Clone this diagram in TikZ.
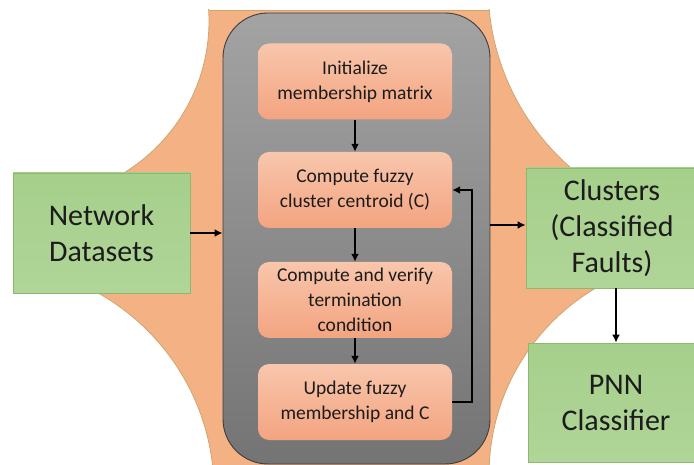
\documentclass[tikz,border=0pt]{standalone}
\usepackage{fontspec}
\setmainfont{Carlito}
\usetikzlibrary{arrows.meta}
\definecolor{bgorange}{RGB}{244,177,131}
\definecolor{bgline}{RGB}{205,165,110}
\definecolor{graytop}{RGB}{163,163,163}
\definecolor{graybot}{RGB}{116,116,116}
\definecolor{grayline}{RGB}{60,60,60}
\definecolor{saltop}{RGB}{248,198,172}
\definecolor{salbot}{RGB}{243,164,128}
\definecolor{greentop}{RGB}{166,207,139}
\definecolor{greenbot}{RGB}{176,213,152}
\definecolor{greenline}{RGB}{140,185,110}
\definecolor{txt}{RGB}{28,28,28}
\begin{document}
\begin{tikzpicture}[x=1pt,y=-1pt,
  stepbox/.style={rectangle, rounded corners=11pt, top color=saltop, bottom color=salbot,
    minimum width=194pt, minimum height=76pt, align=center, text=txt,
    font=\fontsize{19.5}{25}\selectfont, inner sep=0pt},
  greenbox/.style={rectangle, top color=greentop, bottom color=greenbot, draw=greenline,
    line width=0.8pt, minimum height=120pt, align=center, text=txt,
    font=\fontsize{30}{36}\selectfont, inner sep=0pt},
  panel/.style={rectangle, rounded corners=45pt, top color=graytop, bottom color=graybot,
    draw=grayline, line width=0.9pt, minimum width=267pt, minimum height=451pt},
  arr/.style={-{Latex[length=8pt,width=8pt]}, line width=2pt, black}]
\useasboundingbox (0,0) rectangle (694,465);
\clip (0,0) rectangle (694,465);
% orange background with concave corners
\begin{scope}
  \clip (60,10) rectangle (640,470);
  \fill[bgorange] (60,10) rectangle (640,470);
  \filldraw[fill=white, draw=bgline, line width=0.8pt] (31,21) circle[radius=178];
  \filldraw[fill=white, draw=bgline, line width=0.8pt] (-13,491) circle[radius=227];
  \filldraw[fill=white, draw=bgline, line width=0.8pt] (729,-14) circle[radius=241];
  \filldraw[fill=white, draw=bgline, line width=0.8pt] (706,475) circle[radius=217];
\end{scope}
\draw[bgline, line width=0.8pt] (209,10) -- (490,10);
% gray panel
\node[panel] (panel) at (356.5,238.5) {};
% inner steps
\node[stepbox] (init) at (355,81.5) {Initialize\\membership matrix};
\node[stepbox] (cent) at (355,190) {Compute fuzzy\\cluster centroid (C)};
\node[stepbox] (term) at (355,300) {Compute and verify\\termination\\condition};
\node[stepbox] (upd) at (355,402) {Update fuzzy\\membership and C};
% green boxes
\node[greenbox, minimum width=177pt] (net) at (101.5,233) {Network\\Datasets};
\node[greenbox, minimum width=172pt, text width=172pt] (clus) at (612,228) {Clusters\\(Classified\\Faults)};
\node[greenbox, minimum width=176pt, minimum height=119pt] (pnn) at (616,402.5) {PNN\\Classifier};
% connectors
\draw[arr] (init.south) -- (cent.north);
\draw[arr] (cent.south) -- (term.north);
\draw[arr] (term.south) -- (upd.north);
\draw[arr] (upd.east) -- ++(20,0) |- (cent.east);
\draw[arr] (net.east) -- (net.east -| panel.west);
\draw[arr] ([yshift=3pt]clus.west -| panel.east) -- ([yshift=3pt]clus.west);
\draw[arr] (pnn.north |- clus.south) -- (pnn.north);
\end{tikzpicture}
\end{document}
